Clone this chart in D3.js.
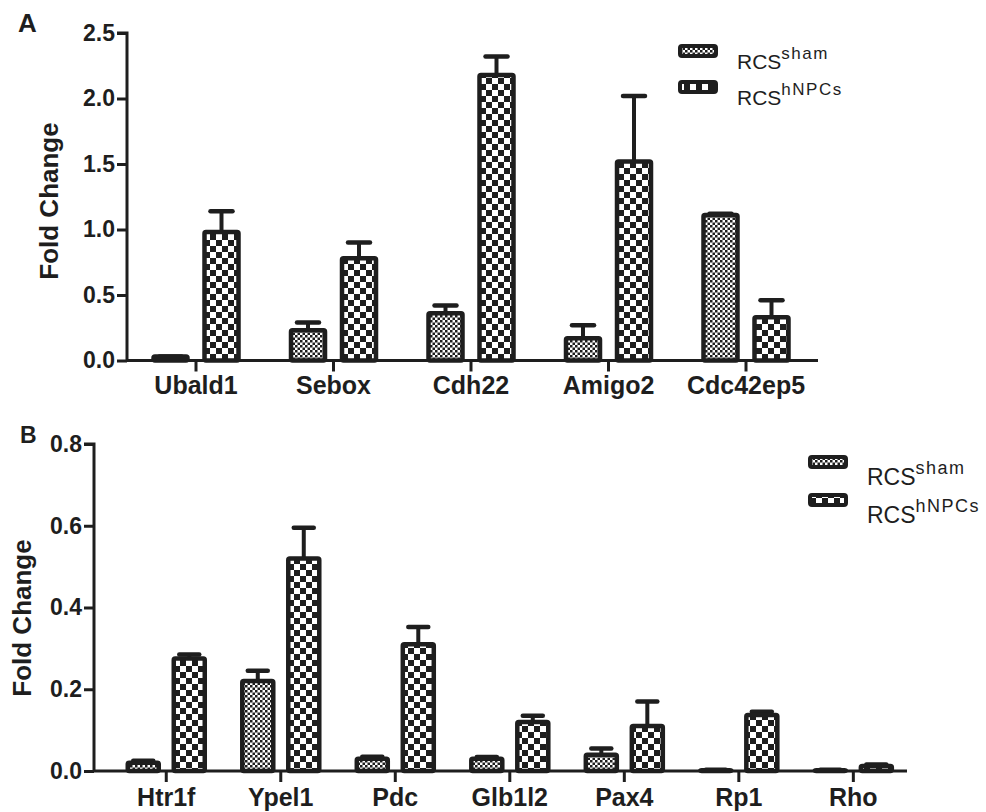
<!DOCTYPE html>
<html>
<head>
<meta charset="utf-8">
<script src="https://cdn.jsdelivr.net/npm/d3@7"></script>
<style>
  body { margin: 0; background: #fff; }
  svg { display: block; }
  text { font-family: "Liberation Sans", Arial, sans-serif; fill: #1e1e1e; }
</style>
</head>
<body>
<svg id="chart" width="986" height="812"></svg>
<script>
// ---------- DATA ----------
const genesA = ["Ubald1", "Sebox", "Cdh22", "Amigo2", "Cdc42ep5"];
const shamA = [0.03, 0.23, 0.36, 0.17, 1.11];
const shamErrA = [0.0, 0.06, 0.06, 0.10, 0.01];
const hnpcA = [0.98, 0.78, 2.18, 1.52, 0.33];
const hnpcErrA = [0.16, 0.12, 0.14, 0.50, 0.13];
const ticksA = [0.0, 0.5, 1.0, 1.5, 2.0, 2.5];

const genesB = ["Htr1f", "Ypel1", "Pdc", "Glb1l2", "Pax4", "Rp1", "Rho"];
const shamB = [0.02, 0.22, 0.03, 0.03, 0.04, 0.002, 0.002];
const shamErrB = [0.005, 0.025, 0.005, 0.004, 0.015, 0.001, 0.001];
const hnpcB = [0.275, 0.52, 0.31, 0.12, 0.11, 0.137, 0.012];
const hnpcErrB = [0.01, 0.075, 0.042, 0.015, 0.06, 0.008, 0.004];
const ticksB = [0.0, 0.2, 0.4, 0.6, 0.8];

const seriesNames = ["sham", "hNPCs"];

// ---------- DRAW ----------
const svg = d3.select("#chart");
const dark = "#1e1e1e";
const defs = svg.append("defs");

// fine checker (sham)
const pf = defs.append("pattern").attr("id", "fine").attr("patternUnits", "userSpaceOnUse")
  .attr("width", 5).attr("height", 5);
pf.append("rect").attr("width", 5).attr("height", 5).attr("fill", "#fff");
pf.append("rect").attr("width", 2.5).attr("height", 2.5).attr("fill", dark);
pf.append("rect").attr("x", 2.5).attr("y", 2.5).attr("width", 2.5).attr("height", 2.5).attr("fill", dark);

// coarse checker (hNPCs)
const pc = defs.append("pattern").attr("id", "coarse").attr("patternUnits", "userSpaceOnUse")
  .attr("width", 12).attr("height", 12);
pc.append("rect").attr("width", 12).attr("height", 12).attr("fill", "#fff");
pc.append("rect").attr("width", 6).attr("height", 6).attr("fill", dark);
pc.append("rect").attr("x", 6).attr("y", 6).attr("width", 6).attr("height", 6).attr("fill", dark);

const fills = ["url(#fine)", "url(#coarse)"];

function drawPanel(cfg) {
  const g = svg.append("g");
  const y = d3.scaleLinear().domain([0, cfg.ymax]).range([cfg.y0, cfg.yTop]);
  const x = d3.scaleBand().domain(cfg.genes).range(cfg.xRange).padding(0);

  // bars
  const series = [
    { vals: cfg.sham, errs: cfg.shamErr, off: -cfg.off, fill: fills[0] },
    { vals: cfg.hnpc, errs: cfg.hnpcErr, off: cfg.off, fill: fills[1] }
  ];
  series.forEach(s => {
    const data = cfg.genes.map((gname, i) => ({ g: gname, v: s.vals[i], e: s.errs[i] }));
    const cx = d => x(d.g) + x.bandwidth() / 2 + s.off;
    g.selectAll(null).data(data).enter().append("line")
      .attr("x1", cx).attr("x2", cx)
      .attr("y1", d => y(d.v)).attr("y2", d => y(d.v + d.e))
      .attr("stroke", dark).attr("stroke-width", 4);
    g.selectAll(null).data(data).enter().append("line")
      .attr("x1", d => cx(d) - cfg.cap / 2).attr("x2", d => cx(d) + cfg.cap / 2)
      .attr("y1", d => y(d.v + d.e)).attr("y2", d => y(d.v + d.e))
      .attr("stroke", dark).attr("stroke-width", 4.5).attr("stroke-linecap", "round");
    g.selectAll(null).data(data).enter().append("rect")
      .attr("x", d => cx(d) - cfg.bw / 2)
      .attr("width", cfg.bw)
      .attr("y", d => y(d.v))
      .attr("height", d => y(0) - y(d.v))
      .attr("rx", 1.5)
      .attr("fill", s.fill)
      .attr("stroke", dark).attr("stroke-width", 4.5).attr("stroke-linejoin", "round");
  });

  // y axis
  const ya = d3.axisLeft(y).tickValues(cfg.ticks).tickFormat(d3.format(".1f")).tickSize(10).tickPadding(2);
  const yg = g.append("g").attr("transform", `translate(${cfg.xAxis},0)`).call(ya);
  yg.select(".domain").attr("stroke", dark).attr("stroke-width", 3)
    .attr("d", `M-10,${y(cfg.ymax)}H0V${y(0)}`);
  yg.selectAll(".tick line").attr("stroke", dark).attr("stroke-width", 3);
  yg.selectAll(".tick text").attr("font-size", 23).attr("font-weight", "bold").attr("fill", dark);

  // x axis
  const xa = d3.axisBottom(x).tickSize(11).tickPadding(cfg.xPad);
  const xg = g.append("g").attr("transform", `translate(0,${y(0)})`).call(xa);
  xg.select(".domain").attr("stroke", dark).attr("stroke-width", 3)
    .attr("d", `M${cfg.xAxis},0H${cfg.xEnd}`);
  xg.selectAll(".tick line").attr("stroke", dark).attr("stroke-width", 3);
  xg.selectAll(".tick text").attr("font-size", 25).attr("font-weight", "bold").attr("fill", dark);

  // y title
  g.append("text")
    .attr("transform", `translate(${cfg.titleX},${cfg.titleY}) rotate(-90)`)
    .attr("text-anchor", "middle").attr("font-size", 26).attr("font-weight", "bold")
    .text("Fold Change");

  // panel letter
  g.append("text").attr("x", cfg.letterX).attr("y", cfg.letterY)
    .attr("font-size", cfg.letterSize).attr("font-weight", "bold").text(cfg.letter);

  // legend
  seriesNames.forEach((nm, i) => {
    const ly = cfg.legY + i * cfg.legGap;
    g.append("rect").attr("x", cfg.legX).attr("y", ly).attr("width", 36).attr("height", 10)
      .attr("rx", 2).attr("fill", fills[i]).attr("stroke", dark).attr("stroke-width", 4);
    const t = g.append("text").attr("x", cfg.legX + 57).attr("y", ly + cfg.legDy).attr("font-size", cfg.legFont);
    t.append("tspan").text("RCS");
    t.append("tspan").attr("dy", -cfg.legFont * 0.5).attr("font-size", cfg.legSup)
      .attr("letter-spacing", 1.5).text(nm);
  });
}

drawPanel({
  letter: "A", letterX: 18, letterY: 32, letterSize: 26,
  genes: genesA, sham: shamA, shamErr: shamErrA, hnpc: hnpcA, hnpcErr: hnpcErrA,
  ticks: ticksA, ymax: 2.5, y0: 360.5, yTop: 33,
  xRange: [127.25, 814.75], xAxis: 127, xEnd: 818, xPad: 5,
  off: 25.5, bw: 34, cap: 22,
  titleX: 58, titleY: 201,
  legX: 680, legY: 46, legGap: 36, legDy: 23, legFont: 21, legSup: 17
});

drawPanel({
  letter: "B", letterX: 20, letterY: 443, letterSize: 23,
  genes: genesB, sham: shamB, shamErr: shamErrB, hnpc: hnpcB, hnpcErr: hnpcErrB,
  ticks: ticksB, ymax: 0.8, y0: 771, yTop: 444,
  xRange: [109, 910.6], xAxis: 94, xEnd: 907, xPad: 6,
  off: 23, bw: 31, cap: 20,
  titleX: 31, titleY: 618,
  legX: 810, legY: 457, legGap: 38, legDy: 28, legFont: 23, legSup: 18
});
</script>
</body>
</html>
